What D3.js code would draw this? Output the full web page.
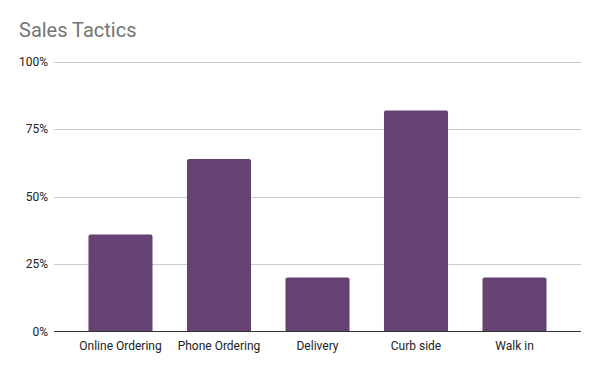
<!DOCTYPE html>
<html>
<head>
<meta charset="utf-8">
<script src="https://cdn.jsdelivr.net/npm/d3@7"></script>
<style>
  body { margin: 0; background: #fff; }
  svg { display: block; font-family: Roboto, sans-serif; }
</style>
</head>
<body>
<svg id="chart" width="600" height="371"></svg>
<script>
// Data
const categories = ['Online Ordering', 'Phone Ordering', 'Delivery', 'Curb side', 'Walk in'];
const values = [0.36, 0.64, 0.20, 0.82, 0.20];
const yTicks = [0, 0.25, 0.5, 0.75, 1];

const svg = d3.select('#chart');
const plotLeft = 54, plotRight = 581, plotTop = 62, plotBottom = 331.5;

// Title
svg.append('text')
  .attr('x', 19)
  .attr('y', 37)
  .attr('font-size', 20)
  .attr('fill', '#757575')
  .text('Sales Tactics');

const x = d3.scaleBand()
  .domain(categories)
  .range([plotLeft, plotRight])
  .padding(0.35);

const y = d3.scaleLinear()
  .domain([0, 1])
  .range([plotBottom, plotTop]);

// Gridlines
svg.append('g')
  .selectAll('line')
  .data(yTicks.filter(d => d > 0))
  .enter()
  .append('line')
  .attr('x1', plotLeft)
  .attr('x2', plotRight)
  .attr('y1', d => Math.round(y(d)) + 0.5)
  .attr('y2', d => Math.round(y(d)) + 0.5)
  .attr('stroke', '#cccccc');

// Y tick labels
svg.append('g')
  .selectAll('text')
  .data(yTicks)
  .enter()
  .append('text')
  .attr('x', 48)
  .attr('y', d => y(d) + 4)
  .attr('text-anchor', 'end')
  .attr('font-size', 12)
  .attr('fill', '#222')
  .text(d => d3.format('.0%')(d));

// Bars
svg.append('g')
  .selectAll('path')
  .data(categories)
  .enter()
  .append('path')
  .attr('fill', '#654174')
  .attr('d', (d, i) => {
    const x0 = x(d), w = x.bandwidth(), y0 = y(values[i]), r = 2;
    return `M${x0},${plotBottom}V${y0 + r}Q${x0},${y0} ${x0 + r},${y0}H${x0 + w - r}Q${x0 + w},${y0} ${x0 + w},${y0 + r}V${plotBottom}Z`;
  });

// Baseline
svg.append('line')
  .attr('x1', plotLeft)
  .attr('x2', plotRight)
  .attr('y1', plotBottom)
  .attr('y2', plotBottom)
  .attr('stroke', '#333')
  .attr('stroke-width', 1);

// X labels
svg.append('g')
  .selectAll('text')
  .data(categories)
  .enter()
  .append('text')
  .attr('x', d => x(d) + x.bandwidth() / 2)
  .attr('y', 350)
  .attr('text-anchor', 'middle')
  .attr('font-size', 12)
  .attr('fill', '#222')
  .text(d => d);
</script>
</body>
</html>
